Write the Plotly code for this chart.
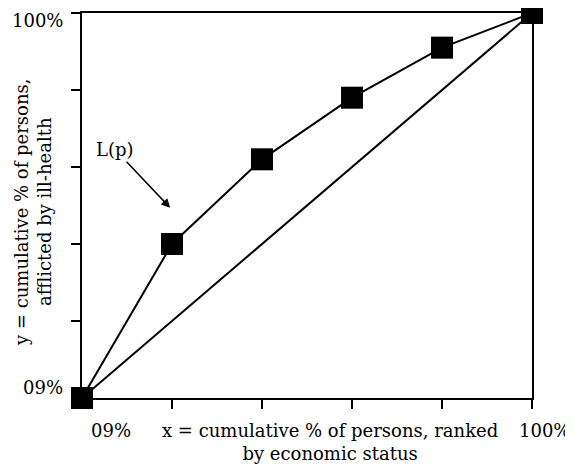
import plotly.graph_objects as go

# cumulative % of persons ranked by economic status
pop_share = [0, 20, 40, 60, 80, 100]
# cumulative % of persons afflicted by ill-health
illness_share = [0, 40, 62, 78, 91, 100]
# line of equality
equality_x = [0, 100]
equality_y = [0, 100]

tick_vals = [0, 20, 40, 60, 80, 100]
low_label = "09%"
high_label = "100%"
x_title = "x = cumulative % of persons, ranked<br>by economic status"
y_title = "y = cumulative % of persons,<br>afflicted by ill-health"
curve_label = "L(p)"

FONT = "DejaVu Serif"

fig = go.Figure()
fig.add_trace(go.Scatter(x=equality_x, y=equality_y, mode='lines',
                         line=dict(color='black', width=2), cliponaxis=False,
                         showlegend=False))
fig.add_trace(go.Scatter(x=pop_share, y=illness_share, mode='lines+markers',
                         line=dict(color='black', width=2),
                         marker=dict(symbol='square', size=22, color='black'),
                         cliponaxis=False, showlegend=False))

axis_style = dict(range=[0, 100], showgrid=False, zeroline=False,
                  showline=True, linecolor='black', linewidth=1.5, mirror=True,
                  ticks='outside', ticklen=9, tickwidth=1.5, tickcolor='black',
                  tickvals=tick_vals, ticktext=[''] * len(tick_vals),
                  fixedrange=True)
fig.update_xaxes(**axis_style)
fig.update_yaxes(**axis_style)

txt = dict(family=FONT, size=18, color='black')
annotations = [
    # y-axis labels
    dict(x=0, y=100, xref='x', yref='y', text=high_label, showarrow=False,
         xanchor='right', xshift=-17, yshift=-7, font=txt),
    dict(x=0, y=0, xref='x', yref='y', text=low_label, showarrow=False,
         xanchor='right', xshift=-17, yshift=11, font=txt),
    # x-axis labels
    dict(x=0, y=0, xref='x', yref='y', text=low_label, showarrow=False,
         xanchor='center', xshift=29, yshift=-32, font=txt),
    dict(x=100, y=0, xref='x', yref='y', text=high_label, showarrow=False,
         xanchor='center', xshift=12, yshift=-32, font=txt),
    dict(x=55, y=0, xref='x', yref='y', text=x_title, showarrow=False,
         yanchor='top', yshift=-20, font=txt),
    dict(x=0, y=48.3, xref='x', yref='y', text=y_title, showarrow=False,
         textangle=-90, xanchor='right', xshift=-25, font=txt),
    # curve label with arrow
    dict(x=19.6, y=49.4, xref='x', yref='y', text=curve_label, showarrow=True,
         arrowhead=2, arrowsize=1.2, arrowwidth=1.5, arrowcolor='black',
         ax=-55, ay=-58, font=txt),
]

fig.update_layout(
    width=565, height=460,
    margin=dict(l=74, r=41, t=3, b=70),
    plot_bgcolor='white', paper_bgcolor='white',
    annotations=annotations,
)

fig.write_html("out.html")
